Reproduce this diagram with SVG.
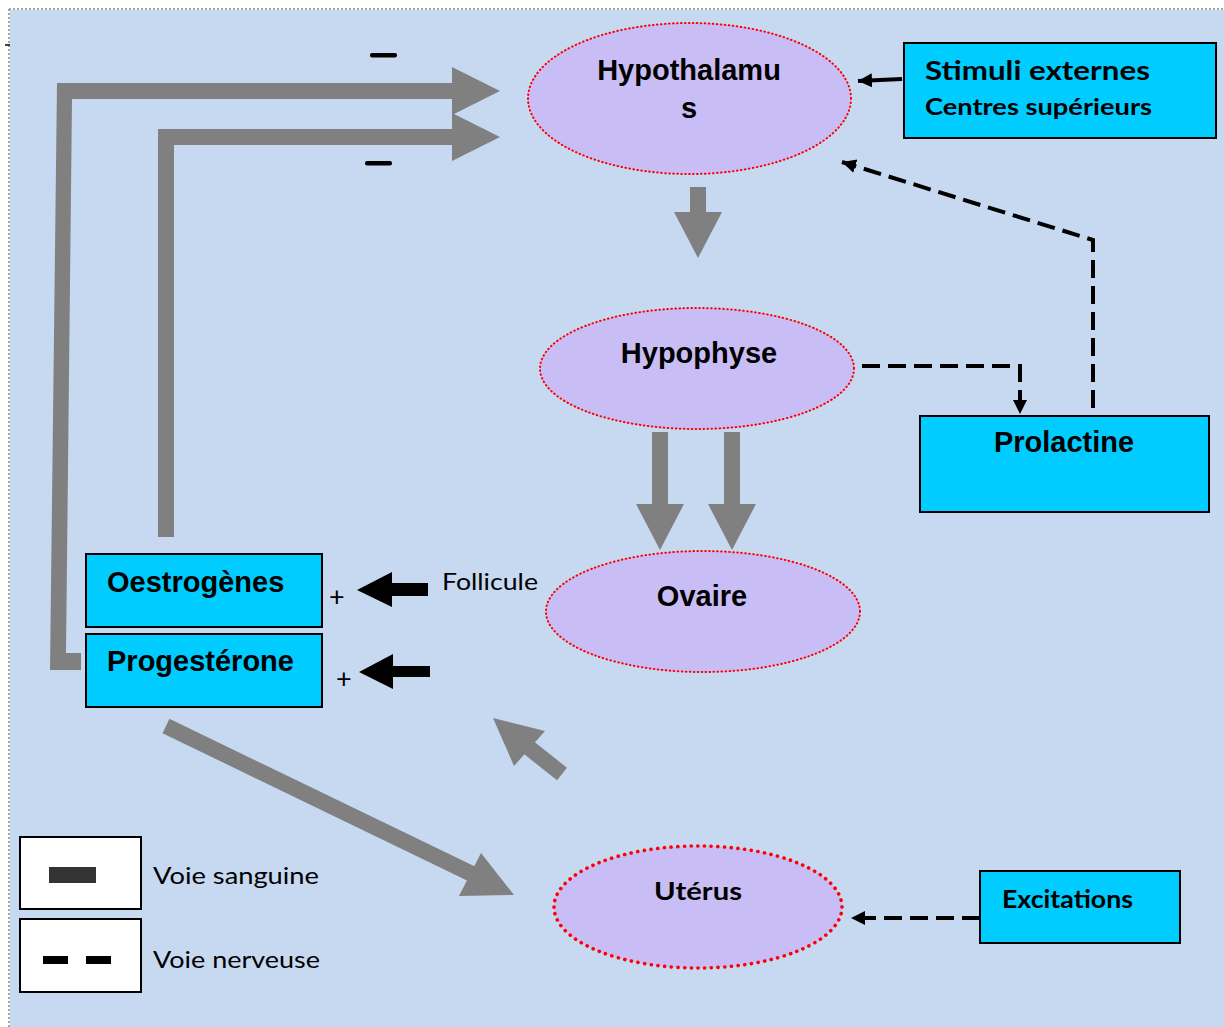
<svg xmlns="http://www.w3.org/2000/svg" width="1224" height="1027" viewBox="0 0 1224 1027">
<style>
.gray{fill:#808080}
.ell{fill:#C9BDF5;stroke:#FF0000;stroke-width:2;stroke-dasharray:0.6 3.4;stroke-linecap:round}
.ell2{fill:#C9BDF5;stroke:#FF0000;stroke-width:3.6;stroke-dasharray:0.1 6.6;stroke-linecap:round}
.box{fill:#00CCFF;stroke:#000;stroke-width:2}
.lbox{fill:#FFFFFF;stroke:#000;stroke-width:2}
.a{font-family:"Liberation Sans",Arial,sans-serif;font-weight:bold;font-size:29px;fill:#000}
.c{font-family:Lato,"Open Sans",sans-serif;fill:#000}
.cb{font-family:Lato,"Open Sans",sans-serif;font-weight:bold;fill:#000}
.dash{fill:none;stroke:#000;stroke-width:4;stroke-dasharray:18 8}
</style>
<defs>
<marker id="ah" markerUnits="userSpaceOnUse" markerWidth="16" markerHeight="16" refX="14" refY="7" orient="auto">
<path d="M0,0 L14,7 L0,14 z" fill="#000"/>
</marker>
</defs>
<rect x="0" y="0" width="1224" height="1027" fill="#FFFFFF"/>
<rect x="10" y="10" width="1214" height="1017" fill="#C6D9F0"/>
<path d="M9,9 H1224 M9,9 V1027" fill="none" stroke="#8A8A8A" stroke-width="1.5" stroke-dasharray="2 2"/>
<line x1="5" y1="45" x2="10" y2="45" stroke="#000" stroke-width="1.5"/>

<g id="connectors">
<polygon class="gray" points="50,670 81,670 81,653 66,653 72,99 452,99 452,115 500,91 452,67 452,83 57,83"/>
<polygon class="gray" points="158,537 174,537 174,145 452,145 452,161 500,137 452,113 452,129 158,129"/>
<polygon class="gray" points="690,187 706,187 706,212 722,212 698,258 674,212 690,212"/>
<polygon class="gray" points="652,432 668,432 668,504 684,504 660,550 636,504 652,504"/>
<polygon class="gray" points="724,432 740,432 740,504 756,504 732,550 708,504 724,504"/>
<line x1="166" y1="726" x2="472" y2="874" stroke="#808080" stroke-width="16"/>
<polygon class="gray" points="481,853 514,895 459,896"/>
<line x1="562" y1="774" x2="528" y2="747" stroke="#808080" stroke-width="16"/>
<polygon class="gray" points="493,718 545,731 514,766"/>
<polygon fill="#000" points="357,590 392,572 392,583 428,583 428,596 392,596 392,607"/>
<polygon fill="#000" points="359,672 393,654 393,666 430,666 430,677 393,677 393,689"/>
<rect x="370" y="53" width="27" height="4.5" rx="2" fill="#000"/>
<rect x="365" y="161" width="27" height="4.5" rx="2" fill="#000"/>
<line x1="902" y1="79" x2="858" y2="81" stroke="#000" stroke-width="4" marker-end="url(#ah)"/>
<polyline class="dash" points="1093,408 1093,240 842,162" marker-end="url(#ah)"/>
<polyline class="dash" points="862,366 1020,366 1020,414" marker-end="url(#ah)"/>
<line class="dash" x1="980" y1="918" x2="851" y2="918" stroke-dasharray="17 12" marker-end="url(#ah)"/>
</g>

<g id="hypothalamus">
<ellipse class="ell" cx="689.5" cy="98.5" rx="161.5" ry="75.5"/>
<text class="a" x="689" y="80" text-anchor="middle">Hypothalamu</text>
<text class="a" x="689" y="118" text-anchor="middle">s</text>
</g>
<g id="stimuli">
<rect class="box" x="904" y="43" width="312" height="95"/>
<text class="cb" x="925" y="80" font-size="26" textLength="225" lengthAdjust="spacingAndGlyphs">Stimuli externes</text>
<text class="cb" x="925" y="115" font-size="22" textLength="227" lengthAdjust="spacingAndGlyphs">Centres supérieurs</text>
</g>
<g id="hypophyse">
<ellipse class="ell" cx="697" cy="368.5" rx="157" ry="60.5"/>
<text class="a" x="699" y="363" text-anchor="middle">Hypophyse</text>
</g>
<g id="prolactine">
<rect class="box" x="920" y="416" width="289" height="96"/>
<text class="a" x="1064" y="452" text-anchor="middle">Prolactine</text>
</g>
<g id="ovaire">
<ellipse class="ell" cx="703" cy="611.5" rx="157" ry="60.5"/>
<text class="a" x="702" y="606" text-anchor="middle">Ovaire</text>
</g>
<g id="oestrogenes">
<rect class="box" x="86" y="554" width="236" height="73"/>
<text class="a" x="107" y="592">Oestrogènes</text>
<text class="c" x="329" y="606" font-size="27">+</text>
</g>
<g id="progesterone">
<rect class="box" x="86" y="634" width="236" height="73"/>
<text class="a" x="107" y="671">Progestérone</text>
<text class="c" x="336" y="688" font-size="27">+</text>
</g>
<g id="follicule">
<text class="c" x="442" y="590" font-size="23" textLength="96" lengthAdjust="spacingAndGlyphs">Follicule</text>
</g>
<g id="uterus">
<ellipse class="ell2" cx="698" cy="907" rx="144" ry="61"/>
<text class="cb" x="654" y="900" font-size="25" textLength="88" lengthAdjust="spacingAndGlyphs">Utérus</text>
</g>
<g id="excitations">
<rect class="box" x="980" y="871" width="200" height="72"/>
<text class="cb" x="1002" y="908" font-size="25" textLength="131" lengthAdjust="spacingAndGlyphs">Excitations</text>
</g>
<g id="legend">
<rect class="lbox" x="20" y="837" width="121" height="72"/>
<rect x="49" y="867" width="47" height="16" fill="#333333"/>
<text class="c" x="153" y="884" font-size="23" textLength="166" lengthAdjust="spacingAndGlyphs">Voie sanguine</text>
<rect class="lbox" x="20" y="919" width="121" height="73"/>
<rect x="43" y="956" width="25" height="8" fill="#000"/>
<rect x="86" y="956" width="25" height="8" fill="#000"/>
<text class="c" x="153" y="968" font-size="23" textLength="167" lengthAdjust="spacingAndGlyphs">Voie nerveuse</text>
</g>
</svg>
